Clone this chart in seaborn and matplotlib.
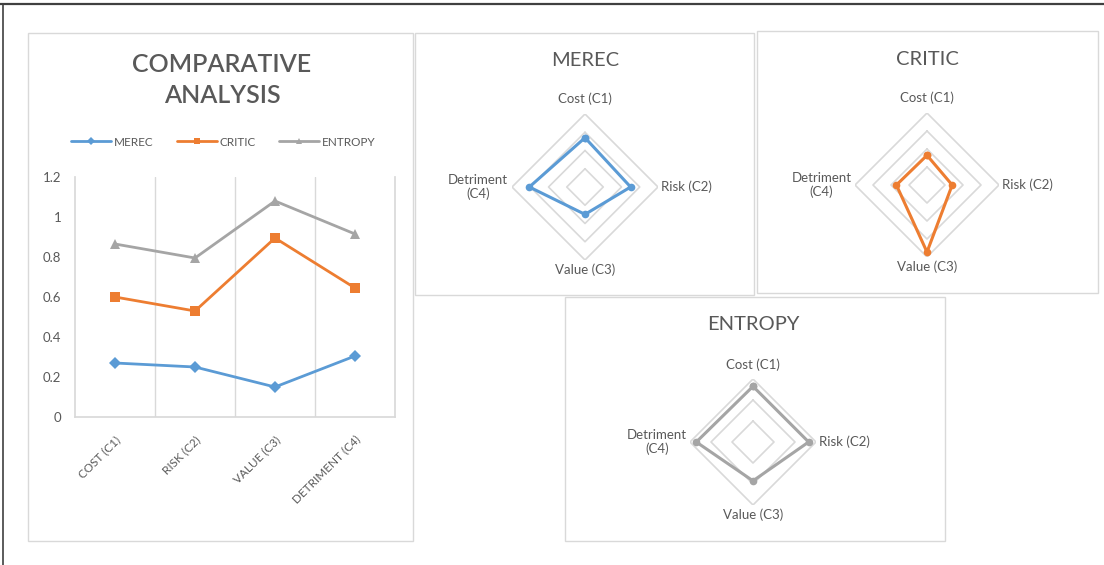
import numpy as np
import pandas as pd
import matplotlib.pyplot as plt
import seaborn as sns
from matplotlib.patches import Rectangle
from matplotlib.lines import Line2D

sns.set_theme(style="white")
plt.rcParams["font.family"] = ["Lato", "DejaVu Sans"]

# data (stacked line chart in Excel -> raw contributions per method)
criteria = ["Cost (C1)", "Risk (C2)", "Value (C3)", "Detriment (C4)"]
methods = ["MEREC", "CRITIC", "ENTROPY"]
merec = [0.27, 0.25, 0.15, 0.305]
critic = [0.33, 0.28, 0.745, 0.34]
entropy = [0.265, 0.265, 0.185, 0.27]
yticks = [0, 0.2, 0.4, 0.6, 0.8, 1, 1.2]
ytick_labels = ["0", "0.2", "0.4", "0.6", "0.8", "1", "1.2"]
radar_max = {"MEREC": 0.4, "CRITIC": 0.8, "ENTROPY": 0.3}
radar_rings = {"MEREC": [0.1, 0.2, 0.3, 0.4],
               "CRITIC": [0.2, 0.4, 0.6, 0.8],
               "ENTROPY": [0.1, 0.2, 0.3]}

colors = {"MEREC": "#5B9BD5", "CRITIC": "#ED7D31", "ENTROPY": "#A5A5A5"}
markers = {"MEREC": "D", "CRITIC": "s", "ENTROPY": "^"}
TXT = "#595959"
GRID = "#D9D9D9"

W, H = 1104, 565
fig = plt.figure(figsize=(W / 100, H / 100), dpi=100)
fig.patch.set_facecolor("white")


def box(x0, y0, x1, y1):
    return [x0 / W, 1 - y1 / H, (x1 - x0) / W, (y1 - y0) / H]


# screenshot frame and chart borders
fig.add_artist(Line2D([0, 1], [1 - 4 / H, 1 - 4 / H], color="#404040", lw=1.6))
fig.add_artist(Line2D([3 / W, 3 / W], [0, 1 - 4 / H], color="#404040", lw=1.2))
for x0, y0, x1, y1 in [(28, 33, 413, 541), (415, 33, 754, 295),
                       (757, 31, 1098, 293), (565, 297, 945, 541)]:
    fig.add_artist(Rectangle((x0 / W, 1 - y1 / H), (x1 - x0) / W, (y1 - y0) / H,
                             transform=fig.transFigure, fill=False,
                             edgecolor=GRID, lw=1))

# ---- stacked line chart ----
vals = {"MEREC": merec, "CRITIC": critic, "ENTROPY": entropy}
stacked = np.cumsum([vals[m] for m in methods], axis=0)
df = pd.DataFrame({
    "pos": np.tile(np.arange(len(criteria)), len(methods)),
    "value": stacked.ravel(),
    "method": np.repeat(methods, len(criteria)),
})

ax = fig.add_axes(box(75, 177, 395, 417))
sns.lineplot(data=df, x="pos", y="value", hue="method", style="method",
             palette=colors, markers=markers, dashes=False, lw=2.0,
             markersize=6.5, markeredgewidth=0, ax=ax)
ax.set_xlim(-0.5, len(criteria) - 0.5)
ax.set_ylim(0, 1.2)
ax.set_yticks(yticks)
ax.set_yticklabels(ytick_labels)
ax.set_xticks(range(len(criteria)))
ax.set_xticklabels([c.upper() for c in criteria], rotation=45, ha="right",
                   rotation_mode="anchor", fontsize=8.5, color=TXT)
ax.set_xticks(np.arange(0.5, len(criteria) - 0.5), minor=True)
ax.grid(axis="x", which="minor", color=GRID, lw=1)
ax.tick_params(axis="x", which="both", length=0, pad=12)
ax.tick_params(axis="y", length=0, labelsize=9.5, labelcolor=TXT, pad=10)
ax.set_xlabel("")
ax.set_ylabel("")
for s in ["left", "right"]:
    ax.spines[s].set_color(GRID)
ax.spines["bottom"].set_color(GRID)
ax.spines["top"].set_visible(False)
handles, labels = ax.get_legend_handles_labels()
ax.legend(handles, labels, loc="center", bbox_to_anchor=(223 / W, 1 - 142 / H),
          bbox_transform=fig.transFigure, ncol=3, frameon=False, fontsize=8.5,
          labelcolor=TXT, handlelength=3.4, columnspacing=2.0,
          handletextpad=0.2, markerscale=0.6)
fig.text(222 / W, 1 - 80 / H, "COMPARATIVE\nANALYSIS", ha="center",
         va="center", fontsize=18, fontweight="semibold", color=TXT,
         linespacing=1.45)

# ---- radar charts ----
angles = np.linspace(0, 2 * np.pi, len(criteria), endpoint=False)


def radar(name, cx, cy, R, ty):
    rax = fig.add_axes(box(cx - R, cy - R, cx + R, cy + R), projection="polar")
    rax.set_theta_zero_location("N")
    rax.set_theta_direction(-1)
    rmax = radar_max[name]
    rax.set_ylim(0, rmax)
    rax.set_xticks([])
    rax.set_yticks([])
    rax.grid(False)
    rax.spines["polar"].set_visible(False)
    rax.patch.set_alpha(0)
    ring_a = np.append(angles, angles[0])
    for r in radar_rings[name]:
        rax.plot(ring_a, [r] * len(ring_a), color=GRID, lw=1.2, zorder=1)
    v = vals[name]
    sns.lineplot(x=np.append(angles, 2 * np.pi), y=v + [v[0]], sort=False,
                 color=colors[name], lw=2.2, marker="o", markersize=5.5,
                 markeredgewidth=0, ax=rax, zorder=3)
    rax.set_xlabel("")
    rax.set_ylabel("")
    kw = dict(fontsize=9.5, color=TXT)
    rax.text(angles[0], rmax * 1.12, criteria[0], ha="center", va="bottom", **kw)
    rax.text(angles[1], rmax * 1.04, criteria[1], ha="left", va="center", **kw)
    rax.text(angles[2], rmax * 1.05, criteria[2], ha="center", va="top", **kw)
    rax.text(angles[3], rmax * 1.05, criteria[3].replace(" ", "\n"), ha="right",
             va="center", multialignment="center", **kw)
    fig.text(cx / W, 1 - ty / H, name, ha="center", va="center",
             fontsize=14.5, fontweight="normal", color=TXT)


radar("MEREC", 585, 187, 73, 61)
radar("CRITIC", 927, 185, 72, 60)
radar("ENTROPY", 753, 442, 63, 325)

fig.savefig("out.png", dpi=100, facecolor="white")
